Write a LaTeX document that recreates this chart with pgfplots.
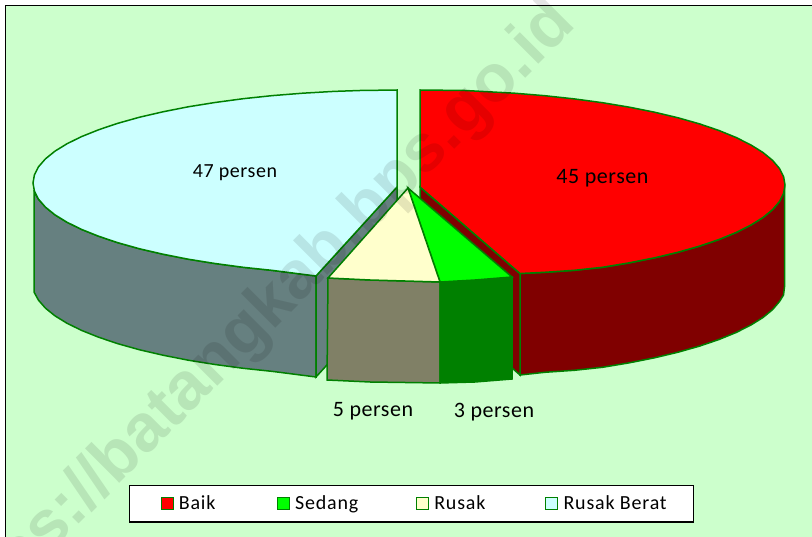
\documentclass[border=0pt]{standalone}
\usepackage{pgfplots}
\pgfplotsset{compat=1.18}
\usepackage{fontspec}
\setmainfont{Carlito}
\newfontfamily\wm[BoldFont={Liberation Sans Bold}]{Liberation Sans}
\definecolor{bgc}{HTML}{CCFFCC}
\definecolor{edge}{HTML}{008000}
\newcommand{\lab}{\fontsize{20}{24}\selectfont\addfontfeature{LetterSpace=3}}
\newcommand{\labb}{\fontsize{22}{24}\selectfont\addfontfeature{LetterSpace=2.5}}
\begin{document}
\begin{tikzpicture}[x=1pt,y=1pt]
\useasboundingbox (0,0) rectangle (812,537);
\begin{axis}[at={(0,0)},anchor=south west,scale only axis,width=812pt,height=537pt,
  xmin=0,xmax=812,ymin=0,ymax=537,y dir=reverse,hide axis,
  legend style={at={(axis cs:129,485)},anchor=north west,draw=black,line width=1.2pt,fill=white,
    inner xsep=31pt,inner ysep=7.5pt,legend columns=4,font=\fontsize{20}{22}\selectfont\addfontfeature{LetterSpace=4},
    nodes={inner sep=3pt},cells={anchor=west}},
  legend cell align=left,
  legend image code/.code={\draw[#1,line width=1pt] (0pt,-5.5pt) rectangle (12pt,6.5pt);\path (14pt,0pt);},
]
% chart background and frame
\addplot[forget plot,fill=bgc,draw=black,line width=1.6pt] coordinates {(5.5,5.5)(840,5.5)(840,560)(5.5,560)} --cycle;
% left big slice: front side and inner face
\addplot[forget plot,fill={rgb,255:red,102;green,128;blue,128},draw=edge,line width=1.5pt] coordinates {(34,192)(38.5,199.2)(45.4,207.1)(54.9,214.8)(67.1,222.3)(81.8,229.5)(98.8,236.3)(118.2,242.8)(139.6,248.8)(163,254.2)(188.2,259.2)(215,263.5)(243.2,267.3)(272.5,270.4)(316,276)(316,377)(272.5,371.4)(243.2,368.3)(215,364.5)(188.2,360.2)(163,355.2)(139.6,349.8)(118.2,343.8)(98.8,337.3)(81.8,330.5)(67.1,323.3)(54.9,315.8)(45.4,308.1)(38.5,300.2)(34,292)} --cycle;
\addplot[forget plot,fill={rgb,255:red,102;green,128;blue,128},draw=edge,line width=1.5pt] coordinates {(397,187)(316,276)(316,377)(397,288)} --cycle;
% right big slice: front side and inner face
\addplot[forget plot,fill={rgb,255:red,128;green,0;blue,0},draw=edge,line width=1.5pt] coordinates {(784.5,190)(779.5,201.5)(772.6,209.6)(763,217.5)(750.8,225.1)(736.1,232.5)(719,239.5)(699.6,246.1)(678.1,252.2)(654.6,257.8)(629.4,262.8)(602.5,267.3)(574.3,270.3)(544.8,272.3)(520,273.5)(520,375)(544.8,372.3)(574.3,370.3)(602.5,367.3)(629.4,362.8)(654.6,357.8)(678.1,352.2)(699.6,346.1)(719,339.5)(736.1,332.5)(750.8,325.1)(763,317.5)(772.6,309.6)(779.5,301.5)(783.5,295)(784.5,287)} --cycle;
\addplot[forget plot,fill={rgb,255:red,128;green,0;blue,0},draw=edge,line width=1.5pt] coordinates {(420,187)(520,273.5)(520,375)(420,287)} --cycle;
% Baik top
\addplot[fill=red,draw=edge,line width=1.5pt] coordinates {(420,90)(465,90.5)(514.5,93.2)(544.8,95.7)(574.3,98.9)(602.5,102.7)(629.4,107.2)(654.6,112.2)(678.1,117.8)(699.6,123.9)(719,130.5)(736.1,137.5)(750.8,144.9)(763,152.5)(772.6,160.4)(779.5,168.5)(783.6,176.7)(785,185)(783.6,193.3)(779.5,201.5)(772.6,209.6)(763,217.5)(750.8,225.1)(736.1,232.5)(719,239.5)(699.6,246.1)(678.1,252.2)(654.6,257.8)(629.4,262.8)(602.5,267.3)(574.3,270.3)(544.8,272.3)(520,273.5)(420,187)} --cycle;
\addlegendentry{\makebox[95pt][l]{Baik}}
% small slices: sides
\addplot[forget plot,fill={rgb,255:red,128;green,128;blue,102},draw=edge,line width=1.5pt] coordinates {(328,278)(370,280)(440,282)(440,383)(370,382)(327,380)} --cycle;
\addplot[forget plot,fill=edge,draw=edge,line width=1.5pt] coordinates {(440,282)(475,280)(512,277)(512,379)(475,382)(440,383)} --cycle;
% Sedang top
\addplot[fill={rgb,255:red,0;green,255;blue,0},draw=edge,line width=1.5pt] coordinates {(408,188)(440,282)(475,280)(512,277)} --cycle;
\addlegendentry{\makebox[118pt][l]{Sedang}}
% Rusak top
\addplot[fill={rgb,255:red,255;green,255;blue,204},draw=edge,line width=1.5pt] coordinates {(408,188)(328,278)(370,280)(440,282)} --cycle;
\addlegendentry{\makebox[108pt][l]{Rusak}}
% Rusak Berat top
\addplot[fill={rgb,255:red,204;green,255;blue,255},draw=edge,line width=1.5pt] coordinates {(397,90)(360,90.5)(333.8,91.4)(302.8,93.2)(272.5,95.6)(243.2,98.7)(215,102.5)(188.2,106.8)(163,111.8)(139.6,117.2)(118.2,123.2)(98.8,129.7)(81.8,136.5)(67.1,143.7)(54.9,151.2)(45.4,158.9)(38.5,166.8)(34.4,174.9)(33,183)(34.4,191.1)(38.5,199.2)(45.4,207.1)(54.9,214.8)(67.1,222.3)(81.8,229.5)(98.8,236.3)(118.2,242.8)(139.6,248.8)(163,254.2)(188.2,259.2)(215,263.5)(243.2,267.3)(272.5,270.4)(316,276)(397,187)} --cycle;
\addlegendentry{\makebox[96pt][l]{Rusak Berat}}
% labels
\node[anchor=center] at (axis cs:235,173) {\lab 47 persen};
\node[anchor=center] at (axis cs:602.5,178) {\labb 45 persen};
\node[anchor=center] at (axis cs:373,411) {\labb 5 persen};
\node[anchor=center] at (axis cs:494,412) {\labb 3 persen};
% watermark
\begin{scope}
\clip (axis cs:0,0) rectangle (axis cs:812,537);
\node[rotate=45,opacity=0.1,text=black,anchor=center] at (axis cs:256,323) {\wm\bfseries\fontsize{67}{70}\selectfont https://batangkab.bps.go.id};
\end{scope}
\end{axis}
\end{tikzpicture}
\end{document}
